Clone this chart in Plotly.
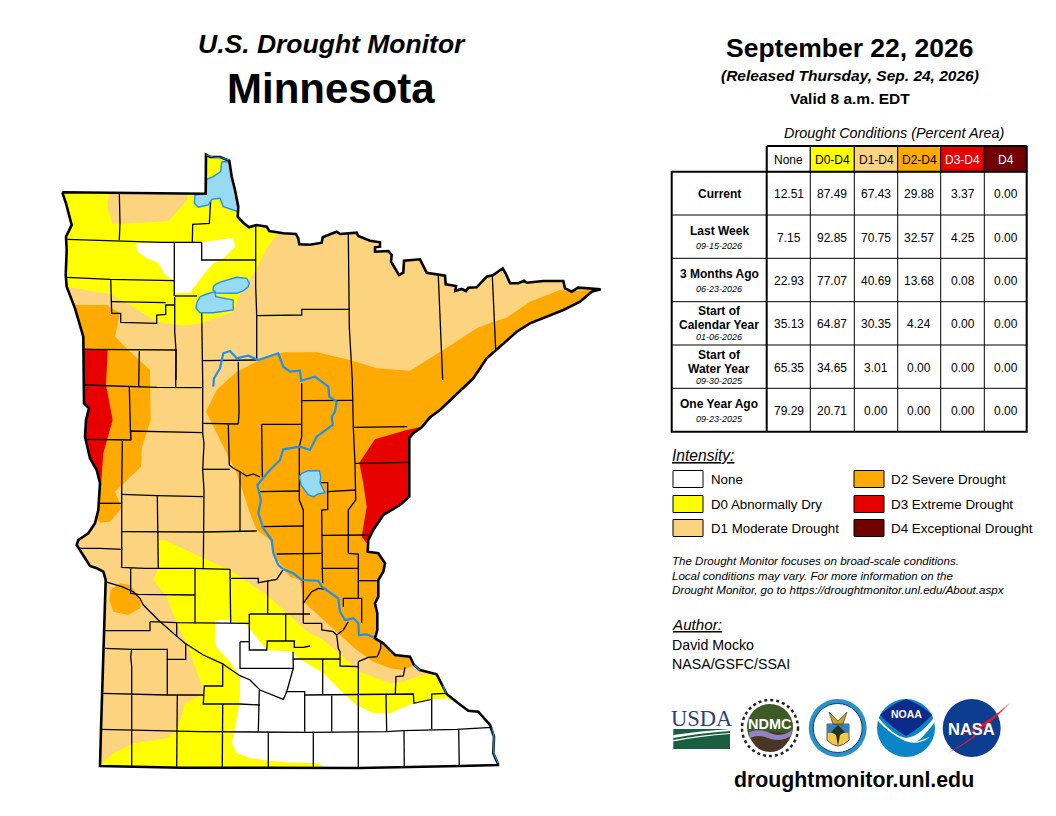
import plotly.graph_objects as go

# everything is in page pixels, the plot div sits 8px in from the body margin
PAGE_W, PAGE_H, BODY = 1056, 816, 8
BLACK, WHITE = "#000000", "#ffffff"
C_D0, C_D1, C_D2, C_D3, C_D4 = "#ffff00", "#fcd37f", "#ffaa00", "#e60000", "#730000"
C_LAKE, C_RIVER = "#97dbf2", "#1e90f0"
FONT = "Liberation Sans"

# table
columns = ["None", "D0-D4", "D1-D4", "D2-D4", "D3-D4", "D4"]
column_fill = [WHITE, C_D0, C_D1, C_D2, C_D3, C_D4]
column_text = [BLACK, BLACK, BLACK, BLACK, WHITE, WHITE]
row_names = [["Current"], ["Last Week"], ["3 Months Ago"], ["Start of", "Calendar Year"], ["Start of", "Water Year"], ["One Year Ago"]]
row_dates = ["", "09-15-2026", "06-23-2026", "01-06-2026", "09-30-2025", "09-23-2025"]
values = [
    ["12.51", "87.49", "67.43", "29.88", "3.37", "0.00"],
    ["7.15", "92.85", "70.75", "32.57", "4.25", "0.00"],
    ["22.93", "77.07", "40.69", "13.68", "0.08", "0.00"],
    ["35.13", "64.87", "30.35", "4.24", "0.00", "0.00"],
    ["65.35", "34.65", "3.01", "0.00", "0.00", "0.00"],
    ["79.29", "20.71", "0.00", "0.00", "0.00", "0.00"],
]
col_edges = [766.7, 810.3, 854.3, 897.7, 940.7, 984.3, 1026.7]
row_edges = [171.7, 215, 258.3, 301.7, 345, 388.3, 431.7]

# legend
legend_left = [("None", WHITE), ("D0 Abnormally Dry", C_D0), ("D1 Moderate Drought", C_D1)]
legend_right = [("D2 Severe Drought", C_D2), ("D3 Extreme Drought", C_D3), ("D4 Exceptional Drought", C_D4)]
notes = [
    "The Drought Monitor focuses on broad-scale conditions.",
    "Local conditions may vary. For more information on the",
    "Drought Monitor, go to https://droughtmonitor.unl.edu/About.aspx",
]

# map outlines
state = [
    (62.3,192.3),(91.7,192.7),(119,193),(205.7,193.7),(206,154.7),(210,157),(220,157),(229.3,160.7),(231.7,176.7),
    (235,190),(238.3,206.7),(237.7,216.7),(243.3,222.7),(249,227.3),(256.7,225),(266.7,226.7),(269.3,231),(283.3,233.3),
    (296,234),(298.3,238.3),(299.3,244.3),(310,244.7),(321.7,242.7),(322.7,237.3),(330,234.3),(336.7,231.7),(340,234),
    (356.7,232.7),(358.3,236),(370,240.7),(380,242.3),(380,246.7),(375,247.3),(375,251.7),(388.3,251),(391.7,255),
    (391,261.7),(399,275),(403.3,272.7),(404,260.7),(420,259.3),(425,269.3),(426.7,272.7),(445,275.7),(445.7,284.3),
    (456,286),(455.3,291),(461.7,289),(466,291),(468.3,287.7),(476.7,287.3),(486.7,276.7),(493.3,275),(502.7,268.3),
    (506,274),(510,283.3),(518.3,283.3),(524,280.7),(526.7,282.7),(543.3,281),(563.3,281),(565,288.3),(571.7,291.7),
    (578.3,287.7),(593.3,288.7),(600.7,289.3),(591.7,291.7),(580,301.7),(563.3,310),(543.3,318.3),(530,323.3),
    (516.7,331.7),(496.7,350),(486.7,358.3),(473.3,378.3),(440,410),(430,417.3),(421.7,427.3),(413.3,433.3),(409.3,438.3),
    (409.3,496.7),(400,505),(383.3,515),(373.3,530),(368.3,540),(367.7,551.7),(378.3,553.3),(385,563.3),(383.3,571.7),
    (378.3,580),(378.3,596.7),(375,603.3),(377.3,613.3),(377.3,630),(375,638.3),(383.3,643.3),(395,655),(410,656.7),
    (414,665),(420,670),(436.7,674.3),(443.3,686.7),(446.7,694),(458.3,703.3),(468.3,710.7),(478.3,711.7),(490,725),
    (494,736.7),(493.3,753.3),(498,764),(498,765),(460,766),(405,766.7),(360,768),(181.7,767.7),(131.7,767),(100,766),
    (101,729.3),(102,693.3),(103.3,656.7),(104.3,630),(105.7,580),(103.3,571.7),(96.7,568.3),(90,566),(85,558),(78.3,548),
    (76.7,545),(78.3,540),(88.3,533.3),(95,523.3),(98.3,510),(100,483.3),(96.7,470),(90,458.3),(85,436.7),(86,420),
    (89,408.3),(84,403.3),(84,383.3),(83.3,353.3),(83.3,336.7),(75,308.3),(66.7,286.7),(65.7,275),(66.7,250),(66,236.7),
    (71.7,225),(66,203.3),
]
d0_north = [
    (50,185),(200,185),(200,150),(245,150),(245,225),(283,226),(266.7,248.3),(256,270),(240,293.3),(233.3,311.7),
    (201.7,323.3),(183.3,325.7),(156.7,321.7),(130,305),(110,294),(70,287.3),(50,287),
]
none_north = [
    (136,243.3),(201.7,242.3),(233.3,237.7),(235,246.7),(223.3,258.3),(213.3,263.3),(203.3,275),(190,292.7),(175,293.3),
    (174,280.7),(165,275),(158.3,263.3),(146.7,258.3),(137.3,251.7),
]
d1_north = [(109.3,190),(186.7,190),(187.3,200),(168.3,221),(140,222.7),(112.7,224),(107.3,206.7)]
d0_south = [
    (158.3,540),(165,540),(203.3,558.3),(230,570),(266.7,595),(286.7,613.3),(306.7,631),(323.3,640),(343.3,656.7),
    (360,671.7),(390,683.3),(403.3,681.7),(421.7,675),(436.7,674.3),(450,672),(480,700),(510,775),(95,775),(100,765),
    (113.3,753.3),(133.3,743.3),(166.7,738.3),(177.3,730),(185,703.3),(203.3,694),(201.7,685),(186.7,643.3),(176,621.7),
    (166.7,596.7),(153.3,580),(158.3,568.3),
]
none_south = [
    (215,620),(230,620),(246.7,625),(266.7,650),(293,651.7),(296.7,656.7),(306.7,663.3),(323.3,673.3),(343.3,693.3),
    (356.7,705),(373.3,713.3),(390,713.3),(413.3,703.3),(431.7,699.3),(446.7,698.3),(456.7,703.3),(470,710.7),(480,708),
    (510,730),(510,775),(325,775),(325,766.7),(316.7,763.3),(300,762.7),(290,762.7),(270,760.7),(250,758.3),(236.7,753.3),
    (231.7,743.3),(233.3,736.7),(238.3,710),(240,696.7),(240,676.7),(230,661.7),(216,646.7),
]
d2_main = [
    (206,411.7),(216.7,390),(236.7,371.7),(260,360),(283.3,352.3),(316.7,352.3),(350,360),(376.7,368.3),(410,370.7),
    (441.7,351),(476.7,328.3),(493.3,321.7),(506.7,317.7),(530,301.7),(560,290),(571.7,291.7),(593.3,289.3),(620,295),
    (520,420),(430,520),(400,650),(418,664),(403.3,670),(390,668.3),(373.3,661.7),(356.7,650),(340,635),(323.3,620),
    (305,603),(300,580),(290,576.7),(275,556.7),(270,540),(256.7,530),(250,513.3),(236.7,473.3),(225,450),(211.7,423.3),
]
d2_west = [
    (73.3,305),(106.7,305),(120,313.3),(115,336.7),(128.3,350),(150,370),(150.7,420),(141.7,448.3),(141,466.7),
    (115,491.7),(121.7,508.3),(110,521.7),(100,522.7),(80,500),(60,310),
]
d2_sw = [
    (110.7,590),(120,583.3),(130,585),(141.7,600),(140,608.3),(128.3,615),(113.3,611.7),(109.3,600),
]
d3_west = [
    (83.3,348.3),(107.7,350),(106,385),(112.7,420),(103.3,453.3),(100.7,490),(98.3,490),(70,470),(70,348),
]
d3_east = [
    (359.3,462.7),(375,439.3),(406.7,430),(421.7,426.7),(440,440),(430,500),(400,520),(375,545),(368.3,541),(366.7,543.3),
    (361.7,536.7),(366.7,506.7),(363.3,483.3),
]
lake_woods = [
    (221.7,161.7),(220.7,171.7),(213.3,176.7),(206.7,179.3),(206,193.3),(195,195),(194.3,203.3),(198.3,207.3),(208.3,205),
    (211.7,199.3),(220,198.3),(223.3,206.7),(238.3,211.7),(235,190),(231.7,176.7),(229.3,161.7),
]
lake_red_upper = [
    (213.3,286.7),(216,284),(221.7,281.7),(230,279),(236.7,277.3),(246.7,278.3),(249.3,283.3),(248,287),(243,291),
    (236.7,293.3),(225,293.3),(215.7,293),(213,290),
]
lake_red_lower = [
    (196.7,303.3),(200,296.7),(207,294),(215,291.7),(215.7,296.7),(233.3,300),(233.3,310),(213.3,312.7),(200,312.7),(196,308.3),
]
lake_mille = [
    (299.3,476.7),(301.7,473.3),(308.3,470.7),(319.3,470.7),(320.7,476.7),(320,482.7),(322.7,488.3),(325,492.7),(318.3,494),
    (313.3,496.7),(308.3,495),(305,490),(301,485),
]
rivers = [
    [(213.3,386.7),(214,378.3),(220,368.3),(223.3,353.3),(230,351),(236.7,358.3),(248.3,355.7),(258.3,360),(278.3,353.3),
     (283.3,366.7),(290,371.7),(300,370.7),(301,380.7),(315,376.7),(328.3,386.7),(329.3,396.7),(336.7,401.7),(335,411.7),
     (331.7,416.7),(332.7,425),(316.7,436.7),(310,450),(300,446.7),(283.3,449.3),(280,460),(268.3,471.7),(257.3,485),
     (261,500),(258.3,513.3),(263.3,528.3),(271.7,540),(273.3,553.3),(278.3,565),(283.3,569.3),(293.3,573.3),(301.7,580),
     (318.3,580.7),(321.7,586.7),(338.3,598.3),(340,611.7),(345,620),(353.3,618.3),(358.3,623.3),(359,635),(366.7,634.3),
     (376,638.3)],
    [(206,155),(213,157),(222,158),(229,160)],
    [(414,665),(420,670)],
    [(443,686),(446,693)],
    [(492,727),(494,737),(493.5,753),(498,763)],
]
counties = [
    [(119.3,193),(120,223.3),(119.3,240)],
    [(67.3,239.3),(93.3,240),(133.3,241.3),(161.7,242.3),(201.7,242.3)],
    [(210.7,200),(209.3,223.3),(192.7,224.3),(192.3,242.3)],
    [(201.7,242.3),(201.7,260),(255,260)],
    [(174.3,242.3),(174.3,296)],
    [(255.7,225),(255.7,286.7),(256.7,315),(256.7,360)],
    [(66.7,277.3),(110,279.3),(174,280.7)],
    [(110.7,279.3),(111.7,313.3),(120.7,313.3),(120.7,322.3),(156.7,323.3),(156.7,315),(165.7,314.3),(165.7,305),(174,305)],
    [(111.7,301.7),(165.7,302.7)],
    [(174.7,296),(197,296)],
    [(174.7,296.7),(174.7,331.7),(176,350),(176,380)],
    [(201.7,313),(202,360),(202.7,380)],
    [(85,349.3),(176.7,350)],
    [(256.7,315.7),(301.7,315),(301.7,309.3),(350,309.3)],
    [(202.7,360.7),(256.7,360)],
    [(238.3,361.7),(239,413.3),(238.3,424)],
    [(139.3,350.7),(138.7,386.7)],
    [(348.3,233.3),(349.3,327),(352.3,380),(353.3,426.7),(355,463.3),(355.7,500),(348.3,510),(348.3,553.3)],
    [(438.3,276),(440,323.3),(442.7,380)],
    [(492.3,275.7),(494,316.7),(495.7,350)],
    [(176,350),(175.7,387.3)],
    [(85,385),(106.7,385.7),(130,386.7),(156.7,387.3),(202.7,387.7)],
    [(202.7,380),(202.7,433.3),(204,443.3),(202.7,470),(204,490),(203.3,531.7),(203.3,568.3)],
    [(129.3,386.7),(130.7,440)],
    [(86,439.3),(130.7,440),(130.7,431),(166.7,431.7),(202.7,432.7)],
    [(122.3,441),(121.7,493.3),(121.7,567.3),(145,568.3),(193.3,568.3),(230,569.3)],
    [(99.3,503.3),(121.7,503.3)],
    [(121.7,494.3),(156.7,495.7),(203.3,496.7)],
    [(157.3,495.7),(158.3,568.3)],
    [(121.7,531.7),(203.3,532),(256.7,531)],
    [(80,548.3),(100,548.3),(122.3,549.3)],
    [(203.3,423.3),(228.3,424),(238.3,424)],
    [(228.3,424.3),(229.3,465),(233.3,468.3),(240,471.7),(246.7,476),(253.3,474),(260,477)],
    [(202.7,469.3),(230,469.3)],
    [(240,472),(240,531.7)],
    [(261.7,424.3),(301.7,424.3)],
    [(261.7,424.3),(262.3,476.7)],
    [(301.7,383.3),(301.7,436.7),(299.3,446.7),(299.3,500),(303.3,510),(303.3,603.3)],
    [(301.7,400.7),(352.7,400.3)],
    [(353.3,427.3),(380,427.3),(407.3,426.7)],
    [(355,463.3),(410,462.3)],
    [(260,491.7),(299.3,491)],
    [(320,482.7),(327.7,482.7),(327.7,509.3),(321.7,510),(322.3,568.3),(358.3,568.3)],
    [(327.7,491.7),(355,490)],
    [(261.7,526.7),(303.3,526)],
    [(321.7,535.3),(368.3,535)],
    [(276.7,554),(303.3,553.3),(321.7,553.3)],
    [(348.3,553.3),(358.3,554),(358.3,598.3)],
    [(322.3,568.3),(322.7,583.3)],
    [(358.3,580.7),(378.3,580.7)],
    [(343.3,606.7),(343.3,598.3),(361.7,598.3),(361.7,622.7)],
    [(303.3,623.3),(303.3,603.3),(311.7,591.7),(318.3,588.3),(326.7,589.3)],
    [(303.3,623.3),(321.7,623.3),(321.7,630),(333.3,631.7),(336.7,635),(343.3,630),(348.3,621.7)],
    [(336.7,635),(338.3,648.3),(340,651.7),(340,666),(358.3,666.7)],
    [(358.3,661.7),(368.3,657.3),(377.3,656.7),(380.7,648.3),(380.7,641.7)],
    [(358.3,661.7),(358.3,767)],
    [(405,667.3),(403.3,676),(396,676.7),(395.3,694)],
    [(293,659),(340,659)],
    [(322.7,659),(322.7,695)],
    [(285.7,691.7),(304.7,691.7),(304.7,731.7)],
    [(304.7,695),(395.3,694.3),(413.3,694),(414,703.3),(431.7,699.3),(431.7,694),(445,693.3)],
    [(331.7,695.7),(331.7,731.7)],
    [(386,694),(386.7,731.7)],
    [(431.7,699.3),(431.7,729.3)],
    [(101,729.3),(132.3,730),(177.3,731.7),(200,731.7),(310,732.3),(386.7,731.7),(403.3,730.7),(456.7,729.3),(491.7,727.3)],
    [(313.3,731.7),(313.3,766.7)],
    [(404,730.7),(404.3,766.7)],
    [(458.7,729.3),(459.3,766.7)],
    [(195,568.3),(195,623.3)],
    [(230,569.3),(230.7,623.3)],
    [(230.7,578.3),(258.3,578.3),(258.3,582.7),(268.3,580.7),(276.7,579.3),(283.3,569.3)],
    [(267.7,580.7),(267.7,614)],
    [(249.3,614),(310,614)],
    [(249.3,614),(249.3,650),(266.7,650),(267.3,641),(294.3,641),(294.3,647.3),(303.3,647.3),(310,646)],
    [(285.7,614),(285.7,641)],
    [(130.7,568.3),(130.7,593.3),(138.3,594.3),(195,595)],
    [(105,581.7),(121.7,586.7),(133.3,591.7),(140,598.3),(143.3,605),(158.3,620),(173.3,633.3),(185,643.3),(203.3,655),
     (221.7,663.3),(240,675.7),(250,680),(260,690),(283.3,699.3),(286.7,691.7),(290,680),(293.3,668.3),(293,651.7)],
    [(150,621.7),(176.7,622.7),(249.3,623.3)],
    [(150,621.7),(150,630.7),(104.3,630.7)],
    [(176.7,622.7),(176.7,637)],
    [(185.7,643.3),(185.7,659.3),(167.3,659.3),(167.3,649.3),(131.7,649.3),(105,648.3)],
    [(131.7,649.3),(130.7,656.7),(131.7,666.7),(131.7,693.3),(132.3,730),(131.7,766.7)],
    [(167.3,659.3),(167.3,695)],
    [(102,693.3),(133.3,694.3),(167.3,695),(203.3,695)],
    [(222.7,663.3),(222.7,686),(204.3,686),(203.3,704),(240,704),(260,705)],
    [(222.7,704),(222.3,766.7)],
    [(259.3,690),(258.3,731.7)],
    [(240,641.7),(240,668.3),(293.3,668.3)],
    [(240,641.7),(249.3,641.7)],
    [(177.3,695),(176.7,766.7)],
    [(268.3,732.3),(268.3,766.7)],
]


def xs(pts):
    return [p[0] for p in pts]


def ys(pts):
    return [p[1] for p in pts]


def area(pts):
    total = 0
    for i in range(len(pts)):
        a, b = pts[i], pts[(i + 1) % len(pts)]
        total += a[0] * b[1] - b[0] * a[1]
    return total


fig = go.Figure()


def add_poly(pts, color, line=None, width=0):
    fig.add_trace(go.Scatter(
        x=xs(pts) + [pts[0][0]], y=ys(pts) + [pts[0][1]], mode="lines", fill="toself", fillcolor=color,
        line=dict(color=line or color, width=width), hoverinfo="skip", showlegend=False,
    ))


def add_line(pts, color, width):
    fig.add_trace(go.Scatter(
        x=xs(pts), y=ys(pts), mode="lines", line=dict(color=color, width=width),
        hoverinfo="skip", showlegend=False,
    ))


def label(x, y, text, size, bold=False, italic=False, anchor="center", color=BLACK, family=FONT):
    if bold:
        text = "<b>" + text + "</b>"
    if italic:
        text = "<i>" + text + "</i>"
    fig.add_annotation(
        x=x, y=y, text=text, showarrow=False, xanchor=anchor, yanchor="middle", xref="x", yref="y",
        font=dict(family=family, size=size, color=color), borderpad=0, borderwidth=0,
    )


def rect(x0, y0, x1, y1, fill, line=BLACK, width=1):
    fig.add_shape(type="rect", x0=x0, y0=y0, x1=x1, y1=y1, fillcolor=fill, line=dict(color=line, width=width), layer="above")


def circle(cx, cy, r, fill, line=None, width=0, dash=None):
    fig.add_shape(type="circle", x0=cx - r, y0=cy - r, x1=cx + r, y1=cy + r, fillcolor=fill,
                  line=dict(color=line or fill, width=width, dash=dash), layer="above")


def path(d, fill="rgba(0,0,0,0)", line=None, width=0):
    fig.add_shape(type="path", path=d, fillcolor=fill, line=dict(color=line or fill, width=width), layer="above")


# map fill layers
add_poly(state, C_D1)
add_poly(d0_north, C_D0)
add_poly(none_north, WHITE)
add_poly(d1_north, C_D1)
add_poly(d0_south, C_D0)
add_poly(none_south, WHITE)
add_poly(d2_main, C_D2)
add_poly(d2_west, C_D2)
add_poly(d2_sw, C_D2)
add_poly(d3_west, C_D3)
add_poly(d3_east, C_D3)

# white mask around the state keeps the drought polygons inside the border
mask_box = [(40, 140), (625, 140), (625, 785), (40, 785)]
mask_hole = state[::-1] if area(state) * area(mask_box) > 0 else state
fig.add_trace(go.Scatter(
    x=xs(mask_box) + [40, None] + xs(mask_hole) + [mask_hole[0][0]],
    y=ys(mask_box) + [140, None] + ys(mask_hole) + [mask_hole[0][1]],
    mode="lines", fill="toself", fillcolor=WHITE, line=dict(width=0, color=WHITE), hoverinfo="skip", showlegend=False,
))

for c in counties:
    add_line(c, BLACK, 1.3)
for lake in [lake_woods, lake_red_upper, lake_red_lower, lake_mille]:
    add_poly(lake, C_LAKE, C_RIVER, 1.4)
add_line(rivers[0], C_RIVER, 2.2)
add_line(state + [state[0]], BLACK, 2.6)
for r in rivers[1:]:
    add_line(r, C_RIVER, 1.2)

# titles
label(332, 44, "U.S. Drought Monitor", 26.5, bold=True, italic=True)
label(331, 88, "Minnesota", 42, bold=True)
label(849, 48, "September 22, 2026", 26.5, bold=True)
label(850, 75, "(Released Thursday, Sep. 24, 2026)", 15.5, bold=True, italic=True)
label(850, 98, "Valid 8 a.m. EDT", 15.5, bold=True)
label(894, 133, "Drought Conditions (Percent Area)", 14.4, italic=True)

# table
for i, name in enumerate(columns):
    rect(col_edges[i], 146.5, col_edges[i + 1], row_edges[0], column_fill[i], width=1)
    label((col_edges[i] + col_edges[i + 1]) / 2, 160, name, 12, color=column_text[i])
rect(671.7, row_edges[0], col_edges[-1], row_edges[-1], "rgba(0,0,0,0)", width=2)
for e in row_edges[1:-1]:
    fig.add_shape(type="line", x0=671.7, x1=col_edges[-1], y0=e, y1=e, line=dict(color=BLACK, width=1), layer="above")
for e in col_edges[1:-1]:
    fig.add_shape(type="line", x0=e, x1=e, y0=row_edges[0], y1=row_edges[-1], line=dict(color=BLACK, width=1), layer="above")
fig.add_shape(type="line", x0=col_edges[0], x1=col_edges[0], y0=146, y1=row_edges[-1], line=dict(color=BLACK, width=2), layer="above")
fig.add_shape(type="line", x0=col_edges[0], x1=col_edges[-1], y0=146, y1=146, line=dict(color=BLACK, width=2), layer="above")
fig.add_shape(type="line", x0=col_edges[-1], x1=col_edges[-1], y0=146, y1=row_edges[0], line=dict(color=BLACK, width=2), layer="above")

for r, row in enumerate(values):
    mid = (row_edges[r] + row_edges[r + 1]) / 2
    for c, val in enumerate(row):
        label((col_edges[c] + col_edges[c + 1]) / 2, mid + 1, val, 12)
    cx = (671.7 + col_edges[0]) / 2
    names = row_names[r]
    if len(names) == 2:
        label(cx, mid - 12, names[0], 12, bold=True)
        label(cx, mid + 2, names[1], 12, bold=True)
        label(cx, mid + 14, row_dates[r], 9, italic=True)
    elif row_dates[r]:
        label(cx, mid - 6, names[0], 12, bold=True)
        label(cx, mid + 9, row_dates[r], 9, italic=True)
    else:
        label(cx, mid + 0.5, names[0], 12, bold=True)

# legend
label(672, 455, "<u>Intensity:</u>", 15.6, italic=True, anchor="left")
for i, (name, fill) in enumerate(legend_left):
    y = [479, 504, 528][i]
    rect(673, y - 8.5, 703, y + 8.5, fill)
    label(711, y, name, 13.3, anchor="left")
for i, (name, fill) in enumerate(legend_right):
    y = [479, 504, 528][i]
    rect(854, y - 8.5, 884, y + 8.5, fill)
    label(891, y, name, 13.4, anchor="left")

for i, line in enumerate(notes):
    label(672, 561 + i * 14.5, line, 11.55, italic=True, anchor="left")

label(672, 624, "<u>Author:</u>", 15.2, italic=True, anchor="left")
label(672, 645, "David Mocko", 14.2, anchor="left")
label(672, 664, "NASA/GSFC/SSAI", 14.2, anchor="left")

# logos, rough vector versions
label(701.5, 718, "USDA", 22.5, color="#2a3f7a", family="Liberation Serif")
rect(673.3, 729, 730, 749, "#1a5e3f", line="#1a5e3f", width=0)
path("M 673.3 735 Q 700 731 730 729 L 730 731 Q 700 733 673.3 738 Z", WHITE)
path("M 673.3 740 Q 700 735 730 733 L 730 734 Q 700 736 673.3 741.5 Z", WHITE)

circle(770, 728, 28, WHITE, "#222222", 2.5, "dot")
circle(770, 727, 23, "#3e5a26")
path("M 750 736 Q 770 728 791 735 Q 785 752 770 752 Q 755 752 750 736 Z", "#4a3524")
path("M 749 732 Q 760 728 770 733 Q 782 738 792 730 L 791 736 Q 780 743 768 738 Q 758 734 750 738 Z", "#8f84c4")
label(770, 724, "NDMC", 14.5, bold=True, color=WHITE)

circle(837.7, 728, 29, "#2a90c8")
circle(837.7, 728, 24.5, WHITE, "#12356b", 1)
path("M 827 724 L 849 724 L 849 740 Q 838 752 827 740 Z", "#f2c84b", "#333333", 0.8)
path("M 827 724 L 849 724 L 849 733 L 827 733 Z", "#3b7fb5")
path("M 829 712 L 838 721 L 847 712 L 843 724 L 833 724 Z", "#c9a227", "#222222", 0.6)
path("M 831 732 L 838 725 L 845 732 L 840 735 L 838 746 L 836 735 Z", "#223322")

circle(906, 728, 29, "#0a85c8")
path("M 880 715 Q 890 705 906 699 Q 922 705 932 715 Q 920 728 906 736 Q 892 728 880 715 Z", "#0b2a8a")
path("M 877 716 Q 893 736 906 738 Q 921 736 935 716 L 935 722 Q 921 740 916 742 L 930 737 Q 918 746 905 741 Q 890 734 877 720 Z", WHITE)
label(906, 714, "NOAA", 10.5, bold=True, color=WHITE)

circle(971.7, 728, 29, "#0b3d91")
path("M 948 753 Q 980 735 1010 703 Q 985 725 960 735 Q 975 732 992 722 Q 972 742 948 753 Z", "#e0182d")
label(971.7, 729, "NASA", 16.5, bold=True, color=WHITE)

label(854, 780, "droughtmonitor.unl.edu", 21.3, bold=True)

fig.update_layout(
    width=PAGE_W - 2 * BODY, height=PAGE_H - 2 * BODY, autosize=False,
    margin=dict(l=0, r=0, t=0, b=0), paper_bgcolor=WHITE, plot_bgcolor=WHITE, showlegend=False,
    xaxis=dict(range=[BODY, PAGE_W - BODY], visible=False, fixedrange=True),
    yaxis=dict(range=[PAGE_H - BODY, BODY], visible=False, fixedrange=True),
)

fig.write_html("out.html")
